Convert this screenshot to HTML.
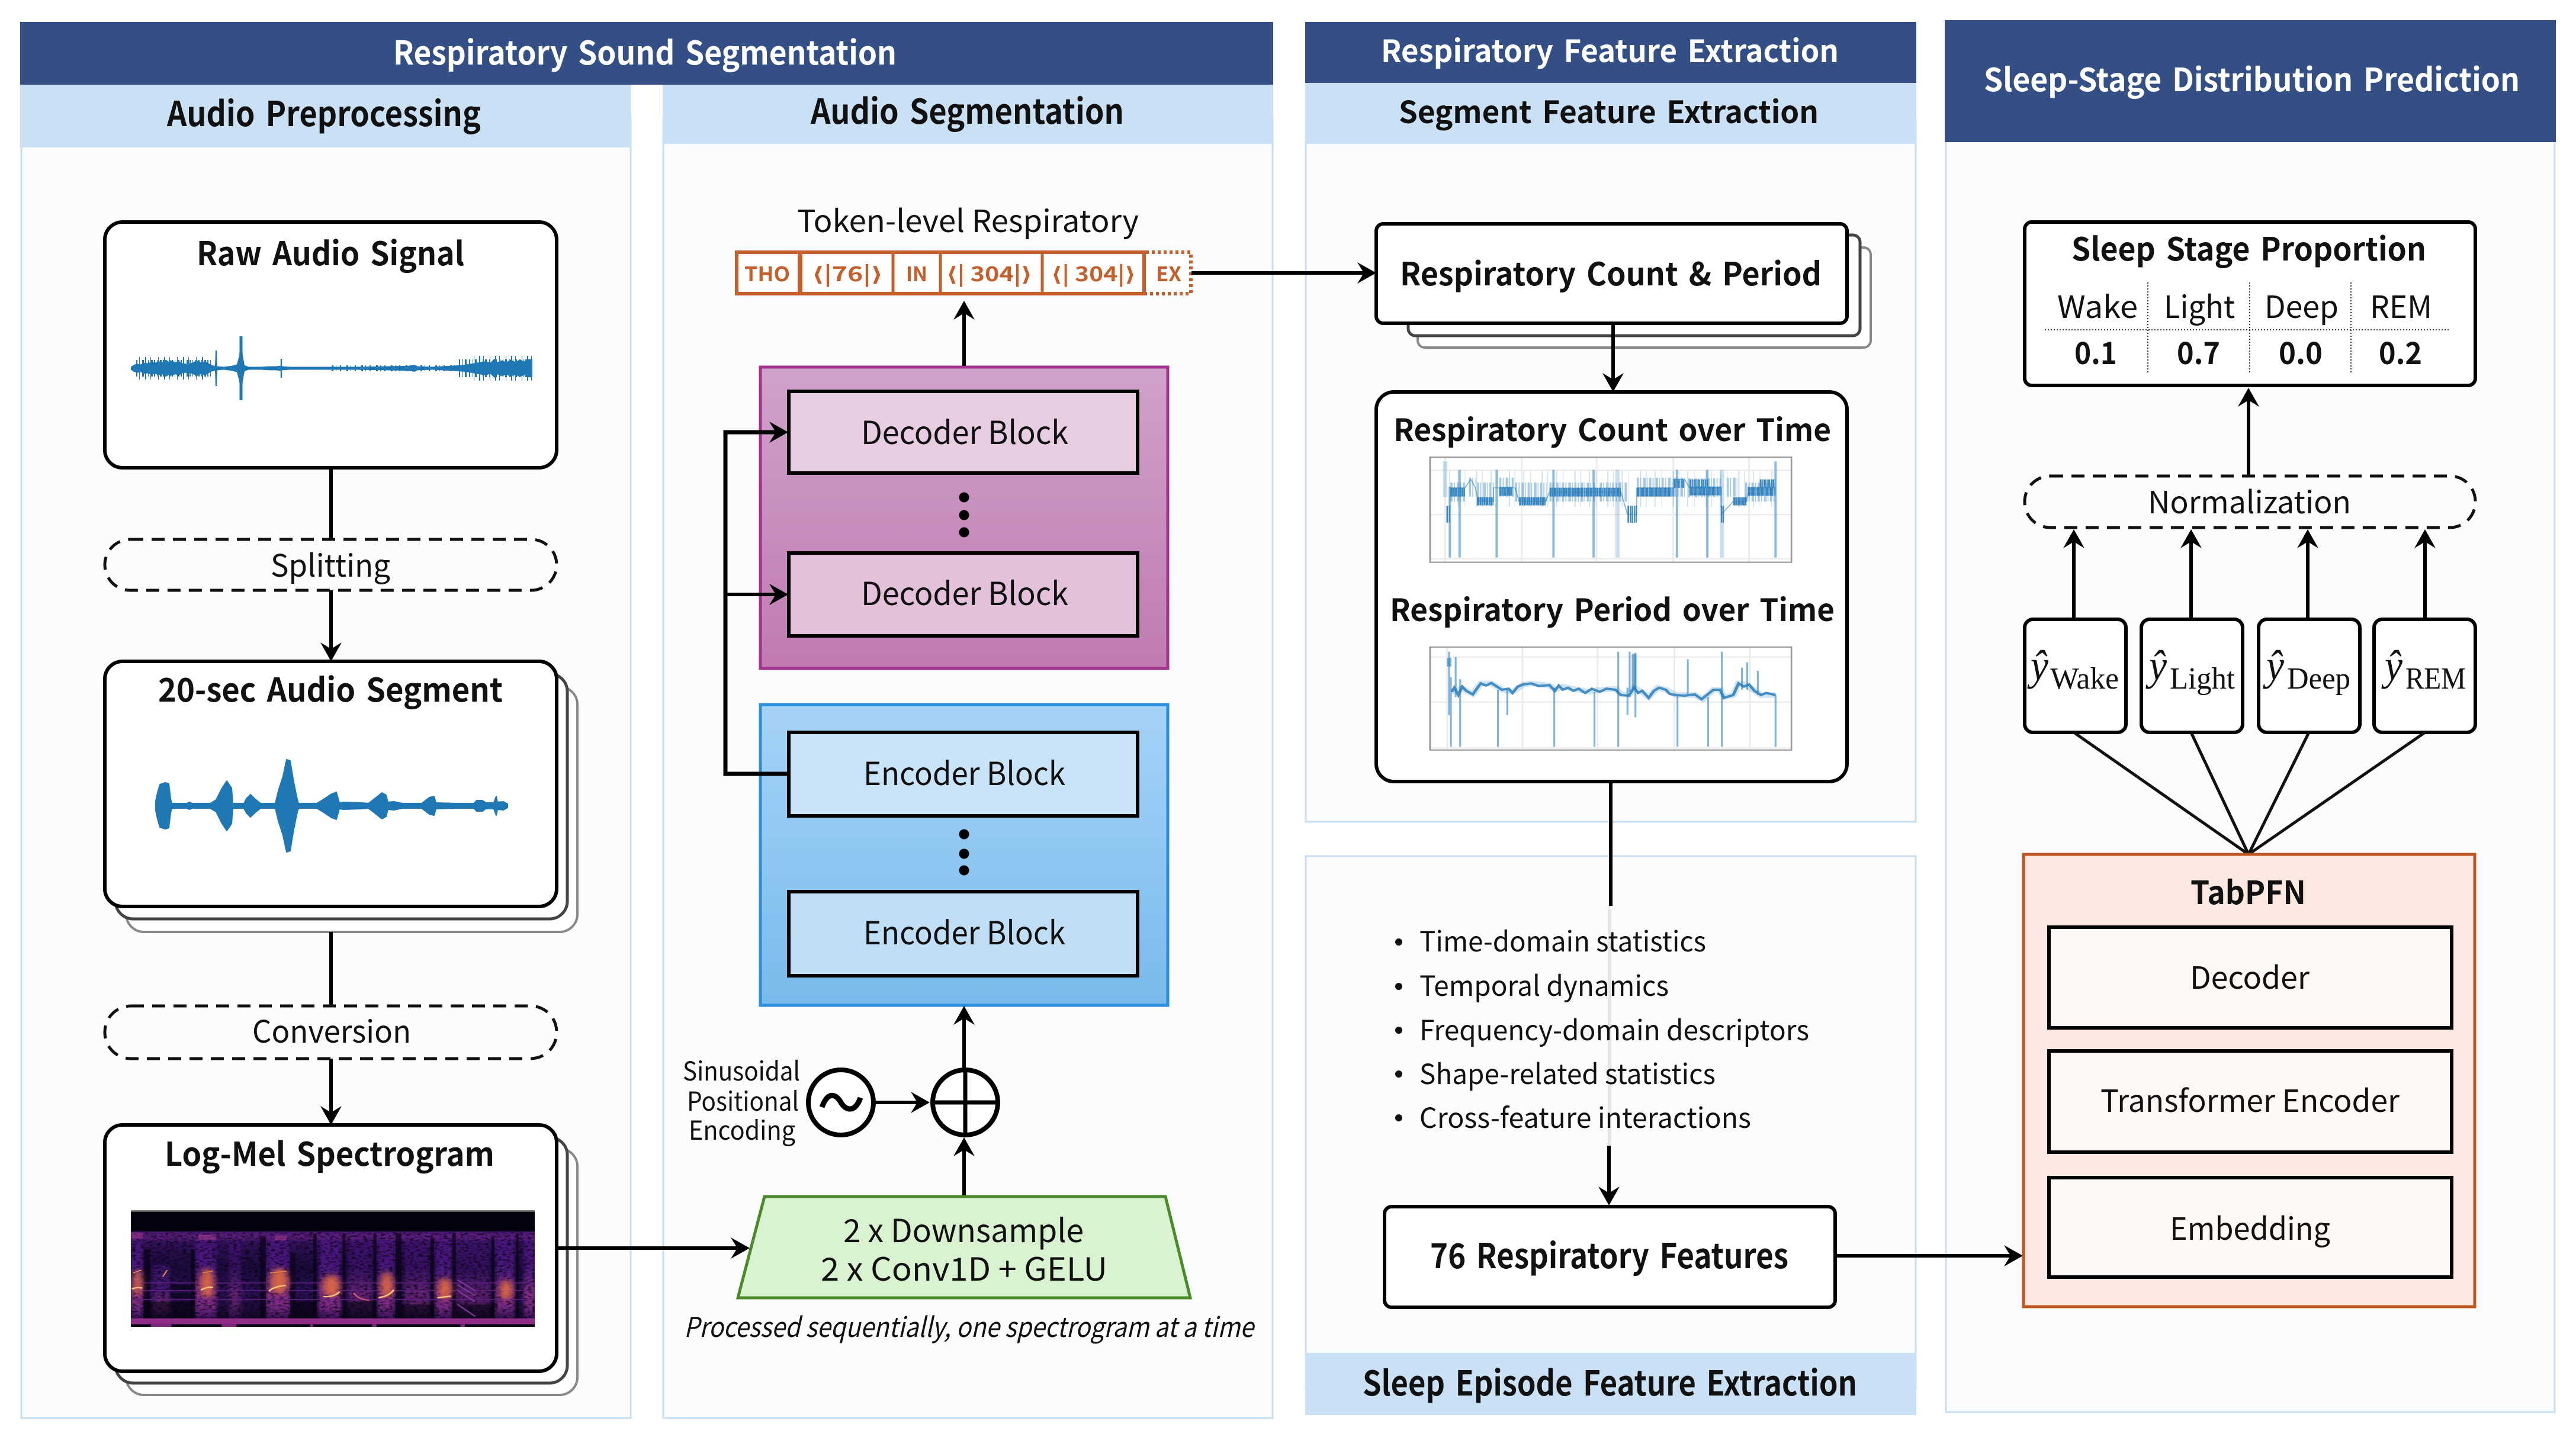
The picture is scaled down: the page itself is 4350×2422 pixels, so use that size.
<!DOCTYPE html>
<html><head><meta charset="utf-8"><style>
html,body{margin:0;padding:0;background:#fff}
svg{display:block}
text{font-family:"Noto Sans CJK KR","Liberation Sans","DejaVu Sans",sans-serif;fill:#111}
.b{font-weight:700;word-spacing:.12em}
.w{fill:#fff}
.s{font-family:"Liberation Serif",serif}
.i{font-style:italic}
.o{fill:#c5602c;font-weight:700}
.bx{fill:#fff;stroke:#000;stroke-width:6}
.l{fill:none;stroke:#000;stroke-width:6}
.d{fill:none;stroke:#111;stroke-width:5;stroke-dasharray:22 14}
.p{fill:#fbfcfe;stroke:#c7dff5;stroke-width:3}
.dot{stroke:#333;stroke-width:2;stroke-dasharray:2 3;fill:none}
</style></head><body>
<svg xmlns="http://www.w3.org/2000/svg" width="4350" height="2422" viewBox="0 0 4350 2422">
<defs>
<marker id="a" markerUnits="userSpaceOnUse" markerWidth="50" markerHeight="50" refX="30" refY="25" orient="auto"><path d="M40,25 L8,7 L19,25 L8,43 Z" fill="#000"/></marker>
<linearGradient id="gd" x1="0" y1="0" x2="0" y2="1"><stop offset="0" stop-color="#d0a2c9"/><stop offset="1" stop-color="#bf7bb0"/></linearGradient>
<linearGradient id="ge" x1="0" y1="0" x2="0" y2="1"><stop offset="0" stop-color="#a6d3f6"/><stop offset="1" stop-color="#78baec"/></linearGradient>
<linearGradient id="sb" x1="0" y1="0" x2="0" y2="1"><stop offset="0" stop-color="#47196e"/><stop offset=".12" stop-color="#33115c"/><stop offset=".4" stop-color="#1c0a3e"/><stop offset=".7" stop-color="#2a1055"/><stop offset="1" stop-color="#150828"/></linearGradient>
<linearGradient id="sc" x1="0" y1="0" x2="0" y2="1"><stop offset="0" stop-color="#45167a"/><stop offset=".45" stop-color="#4d1a80"/><stop offset=".7" stop-color="#8a3086"/><stop offset=".85" stop-color="#7a2a84"/><stop offset="1" stop-color="#341259"/></linearGradient>
<filter id="bl" x="-30%" y="-30%" width="160%" height="160%"><feGaussianBlur stdDeviation="6"/></filter>
<filter id="bl2" x="-40%" y="-40%" width="180%" height="180%"><feGaussianBlur stdDeviation="11"/></filter>
<filter id="nz" x="0" y="0" width="100%" height="100%" color-interpolation-filters="sRGB"><feTurbulence type="fractalNoise" baseFrequency=".07 .1" numOctaves="2" seed="4"/><feColorMatrix values="0 0 0 0 .02 0 0 0 0 .01 0 0 0 0 .06 2.2 0 0 0 -.95"/></filter>
<path id="rw" fill="#1f77b4" d="M221,0 L221,-3 226,-7 232,-9 238,-8 244,-11 250,-10 256,-13 262,-11 268,-14 274,-12 280,-17 285,-13 290,-15 296,-12 302,-14 308,-10 314,-9 322,-10 328,-13 334,-15 340,-11 346,-14 352,-10 358,-6 363,-5 364,-30 366,-30 367,-4 378,-3 392,-5 400,-8 404,-25 406,-54 408,-54 410,-25 413,-6 420,-3 440,-3 455,-4 465,-4 474,-5 474,-16 476,-16 476,-4 490,-3 560,-3 600,-3 650,-4 690,-5 700,-7 705,-4 730,-3 760,-5 775,-6 790,-8 800,-10 810,-12 820,-14 828,-11 835,-19 840,-12 848,-16 855,-12 862,-17 870,-13 878,-17 885,-14 892,-18 899,-18 899,0 Z"/>
<path id="sw" fill="#1f77b4" stroke="#1f77b4" stroke-width="2" stroke-linejoin="round" d="M263,0 L263,-8 266,-22 270,-36 279,-39 285,-37 288,-12 290,-4 315,-4 320,-6 325,-4 355,-4 365,-10 375,-30 383,-42 391,-30 393,-4 412,-4 416,-12 423,-19 430,-12 440,-4 465,-4 470,-25 478,-50 484,-78 490,-76 495,-45 501,-15 504,-4 535,-4 545,-10 560,-20 568,-23 573,-5 580,-6 610,-5 622,-4 630,-10 645,-22 652,-18 655,-6 665,-7 680,-4 712,-4 725,-14 733,-16 736,-5 770,-4 800,-4 805,-9 815,-9 820,-5 834,-5 838,-16 840,-6 850,-7 857,-3 857,0 Z"/>
</defs>

<rect width="4350" height="2422" fill="#fff"/>

<!-- panels -->
<rect class="p" x="36" y="200" width="1029" height="2195"/>
<rect class="p" x="1120" y="200" width="1029" height="2195"/>
<rect class="p" x="2205" y="200" width="1030" height="1188"/>
<rect class="p" x="2205" y="1446" width="1030" height="900"/>
<rect class="p" x="3286" y="200" width="1028" height="2185"/>

<rect x="34" y="37" width="2116" height="106" fill="#344f86"/>
<rect x="34" y="143" width="1032" height="106" fill="#c9e0f5"/>
<rect x="1119" y="143" width="1031" height="100" fill="#c9e0f5"/>
<rect x="2204" y="37" width="1032" height="103" fill="#344f86"/>
<rect x="2204" y="140" width="1032" height="103" fill="#c9e0f5"/>
<rect x="2204" y="2285" width="1032" height="105" fill="#c9e0f5"/>
<rect x="3284" y="34" width="1032" height="206" fill="#344f86"/>

<text class="b w" x="664" y="109" font-size="55" textLength="850" lengthAdjust="spacingAndGlyphs">Respiratory Sound Segmentation</text>
<text class="b" x="282" y="213" font-size="58" textLength="530" lengthAdjust="spacingAndGlyphs">Audio Preprocessing</text>
<text class="b" x="1369" y="209" font-size="58" textLength="529" lengthAdjust="spacingAndGlyphs">Audio Segmentation</text>
<text class="b w" x="2332" y="105" font-size="52" textLength="773" lengthAdjust="spacingAndGlyphs">Respiratory Feature Extraction</text>
<text class="b" x="2362" y="208" font-size="52" textLength="709" lengthAdjust="spacingAndGlyphs">Segment Feature Extraction</text>
<text class="b" x="2301" y="2357" font-size="58" textLength="835" lengthAdjust="spacingAndGlyphs">Sleep Episode Feature Extraction</text>
<text class="b w" x="3350" y="154" font-size="54" textLength="905" lengthAdjust="spacingAndGlyphs">Sleep-Stage Distribution Prediction</text>

<!-- col 1 -->
<rect class="bx" x="177" y="375" width="763" height="415" rx="30"/>
<text class="b" x="332" y="448" font-size="55" textLength="452" lengthAdjust="spacingAndGlyphs">Raw Audio Signal</text>
<use href="#rw" transform="translate(0,622) scale(1,.85)"/><use href="#rw" transform="translate(0,622) scale(1,-.85)"/>
<g fill="none" stroke="#1f77b4">
<path d="M230,622H358" stroke-width="28" stroke-dasharray="2 3 1 4 3 2"/>
<path d="M235,622H350" stroke-width="38" stroke-dasharray="1 9 2 7 1 12"/>
<path d="M775,622H899" stroke-width="30" stroke-dasharray="2 4 1 3 3 4"/>
<path d="M800,622H899" stroke-width="42" stroke-dasharray="1 8 2 5 1 10"/>
<path d="M365,592V652" stroke-width="2.5"/>
<path d="M407,568V676" stroke-width="5"/>
<path d="M475,606V638" stroke-width="2.5"/>
<path d="M560,622H780" stroke-width="10" stroke-dasharray="3 4 1 6 2 9"/>
</g>
<line class="l" x1="559" y1="790" x2="559" y2="911"/>
<rect class="d" x="177" y="911" width="763" height="86" rx="43" style="fill:#fbfcfe"/>
<text x="457" y="974" font-size="52" textLength="202" lengthAdjust="spacingAndGlyphs">Splitting</text>
<line class="l" x1="559" y1="997" x2="559" y2="1107" marker-end="url(#a)"/>

<rect x="213" y="1160" width="762" height="414" rx="30" fill="#fff" stroke="#888" stroke-width="4"/>
<rect x="195" y="1138" width="763" height="414" rx="30" fill="#fff" stroke="#444" stroke-width="5"/>
<rect class="bx" x="177" y="1117" width="763" height="414" rx="30"/>
<text class="b" x="267" y="1185" font-size="55" textLength="582" lengthAdjust="spacingAndGlyphs">20-sec Audio Segment</text>
<use href="#sw" transform="translate(0,1361)"/><use href="#sw" transform="translate(0,1361) scale(1,-1)"/>
<line class="l" x1="559" y1="1574" x2="559" y2="1699"/>
<rect class="d" x="177" y="1699" width="763" height="89" rx="44" style="fill:#fbfcfe"/>
<text x="426" y="1761" font-size="52" textLength="268" lengthAdjust="spacingAndGlyphs">Conversion</text>
<line class="l" x1="559" y1="1788" x2="559" y2="1890" marker-end="url(#a)"/>

<rect x="213" y="1940" width="762" height="416" rx="30" fill="#fff" stroke="#888" stroke-width="4"/>
<rect x="195" y="1921" width="763" height="415" rx="30" fill="#fff" stroke="#444" stroke-width="5"/>
<rect class="bx" x="177" y="1900" width="763" height="416" rx="30"/>
<text class="b" x="278" y="1969" font-size="55" textLength="557" lengthAdjust="spacingAndGlyphs">Log-Mel Spectrogram</text>

<!-- spectrogram -->
<svg x="221" y="2044" width="682" height="197" viewBox="82 282 1370 591" preserveAspectRatio="none">
<rect x="82" y="282" width="1370" height="591" fill="#04020f"/>
<rect x="82" y="390" width="1370" height="445" fill="url(#sb)"/>
<g fill="url(#sc)" filter="url(#bl)">
<rect x="82" y="395" width="42" height="440"/><rect x="300" y="395" width="72" height="440"/><rect x="415" y="395" width="40" height="440" opacity=".6"/><rect x="540" y="395" width="82" height="440"/><rect x="720" y="395" width="74" height="440"/><rect x="820" y="395" width="80" height="440" opacity=".6"/><rect x="920" y="395" width="56" height="440"/><rect x="1010" y="395" width="85" height="440" opacity=".6"/><rect x="1115" y="395" width="56" height="440"/><rect x="1185" y="395" width="115" height="440" opacity=".5"/><rect x="1320" y="395" width="62" height="440"/><rect x="1415" y="395" width="37" height="440"/>
<rect x="155" y="560" width="60" height="270" opacity=".7"/>
</g>
<g fill="#6b2188" opacity=".6" filter="url(#bl)">
<rect x="82" y="398" width="1370" height="36"/>
</g>
<g fill="#04020f" opacity=".6">
<rect x="125" y="480" width="22" height="350"/><rect x="285" y="480" width="15" height="350"/><rect x="520" y="420" width="20" height="410"/><rect x="622" y="500" width="18" height="330"/><rect x="700" y="400" width="12" height="430"/><rect x="800" y="400" width="10" height="430"/><rect x="905" y="400" width="10" height="430"/><rect x="980" y="400" width="20" height="430"/><rect x="1098" y="420" width="12" height="410"/><rect x="1172" y="400" width="12" height="430"/><rect x="1305" y="420" width="10" height="410"/><rect x="1388" y="400" width="10" height="430"/>
</g>
<g fill="#04020f" opacity=".55">
<rect x="125" y="745" width="165" height="85"/><rect x="640" y="745" width="70" height="85"/><rect x="810" y="745" width="100" height="85"/><rect x="1000" y="760" width="110" height="70"/><rect x="1185" y="760" width="130" height="70"/><rect x="215" y="660" width="70" height="25"/><rect x="215" y="700" width="70" height="28"/>
</g>
<rect x="82" y="395" width="1370" height="435" filter="url(#nz)"/>
<g stroke="#5e2180" stroke-width="6" opacity=".8"><line x1="82" y1="650" x2="1452" y2="650"/><line x1="82" y1="690" x2="1452" y2="690"/><line x1="82" y1="735" x2="1452" y2="735"/></g>
<g fill="#e8703f" filter="url(#bl2)" opacity=".85">
<ellipse cx="105" cy="650" rx="14" ry="65"/><ellipse cx="340" cy="650" rx="22" ry="75"/><ellipse cx="585" cy="640" rx="30" ry="65"/><ellipse cx="762" cy="665" rx="28" ry="55"/><ellipse cx="950" cy="660" rx="20" ry="65"/><ellipse cx="1147" cy="680" rx="22" ry="55"/><ellipse cx="1355" cy="685" rx="20" ry="50"/>
</g>
<g fill="none" stroke="#ffc27a" stroke-width="7" stroke-linecap="round"><path d="M88,680 Q100,672 118,676"/><path d="M322,685 Q340,670 358,672"/><path d="M552,690 Q570,668 605,664"/><path d="M738,720 Q770,722 788,698"/><path d="M925,725 Q960,715 972,688"/><path d="M1125,725 L1165,718"/></g>
<g fill="none" stroke="#e4824f" stroke-width="5"><path d="M90,600 L118,585"/><path d="M325,600 L360,590"/><path d="M555,600 L610,590"/><path d="M205,585 L190,620"/></g>
<path d="M838,702 Q855,735 890,738" fill="none" stroke="#c75a7a" stroke-width="6"/>
<g fill="none" stroke="#7a3596" stroke-width="6"><path d="M1190,635 L1250,690"/><path d="M1190,660 L1250,715"/><path d="M1190,690 L1250,745"/><path d="M1190,760 L1250,820"/></g>
<g fill="#a93b8a" opacity=".5"><rect x="82" y="395" width="40" height="30"/><rect x="310" y="405" width="60" height="28"/><rect x="570" y="410" width="40" height="25"/></g>
<rect x="82" y="830" width="1370" height="30" fill="#8e2c86"/>
<rect x="82" y="860" width="1370" height="13" fill="#0a0418"/>
<g fill="#7c2680"><rect x="150" y="860" width="70" height="13"/><rect x="390" y="860" width="50" height="13"/><rect x="690" y="860" width="10" height="13"/><rect x="900" y="860" width="15" height="13"/><rect x="1200" y="860" width="15" height="13"/></g>
<rect x="82" y="282" width="1370" height="8" fill="#777"/>
</svg>

<!-- col 2 -->
<text x="1346" y="392" font-size="52" textLength="577" lengthAdjust="spacingAndGlyphs">Token-level Respiratory</text>
<rect x="1244" y="426" width="688" height="70" fill="#fff" stroke="#c5602c" stroke-width="6"/>
<g stroke="#c5602c"><line x1="1351" y1="426" x2="1351" y2="496" stroke-width="8"/><line x1="1508" y1="426" x2="1508" y2="496" stroke-width="5"/><line x1="1588" y1="426" x2="1588" y2="496" stroke-width="5"/><line x1="1760" y1="426" x2="1760" y2="496" stroke-width="5"/></g>
<path d="M1935,426 H2011 V496 H1935" fill="#fff" stroke="#c5602c" stroke-width="6" stroke-dasharray="5 5"/>
<g font-size="34">
<text class="o" x="1257" y="475" textLength="77" lengthAdjust="spacingAndGlyphs">THO</text>
<text class="o" x="1371" y="475" textLength="120" lengthAdjust="spacingAndGlyphs">⟨|76|⟩</text>
<text class="o" x="1530" y="475" textLength="36" lengthAdjust="spacingAndGlyphs">IN</text>
<text class="o" x="1598" y="475" textLength="145" lengthAdjust="spacingAndGlyphs">⟨| 304|⟩</text>
<text class="o" x="1775" y="475" textLength="143" lengthAdjust="spacingAndGlyphs">⟨| 304|⟩</text>
<text class="o" x="1952" y="475" textLength="43" lengthAdjust="spacingAndGlyphs">EX</text>
</g>
<rect x="1284" y="620" width="688" height="509" fill="url(#gd)" stroke="#a3308f" stroke-width="5"/>
<rect x="1332" y="661" width="589" height="138" fill="#e7cde2" stroke="#000" stroke-width="6"/>
<rect x="1332" y="934" width="589" height="140" fill="#e3c1da" stroke="#000" stroke-width="6"/>
<text x="1454" y="750" font-size="54" textLength="350" lengthAdjust="spacingAndGlyphs">Decoder Block</text>
<text x="1454" y="1022" font-size="54" textLength="350" lengthAdjust="spacingAndGlyphs">Decoder Block</text>
<circle cx="1628" cy="840" r="8.5"/><circle cx="1628" cy="870" r="8.5"/><circle cx="1628" cy="899" r="8.5"/>
<rect x="1284" y="1190" width="688" height="508" fill="url(#ge)" stroke="#2a8cdc" stroke-width="5"/>
<rect x="1332" y="1237" width="589" height="141" fill="#c9e4f8" stroke="#000" stroke-width="6"/>
<rect x="1332" y="1506" width="589" height="142" fill="#c0dff6" stroke="#000" stroke-width="6"/>
<text x="1458" y="1326" font-size="54" textLength="341" lengthAdjust="spacingAndGlyphs">Encoder Block</text>
<text x="1458" y="1595" font-size="54" textLength="341" lengthAdjust="spacingAndGlyphs">Encoder Block</text>
<circle cx="1628" cy="1409" r="8.5"/><circle cx="1628" cy="1442" r="8.5"/><circle cx="1628" cy="1470" r="8.5"/>
<line class="l" x1="1628" y1="618" x2="1628" y2="518" marker-end="url(#a)"/>
<path class="l" style="stroke-width:7" d="M1331,1307 H1225 V730 H1321" marker-end="url(#a)"/>
<line class="l" x1="1225" y1="1004" x2="1321" y2="1004" marker-end="url(#a)"/>

<g font-size="44"><text x="1153" y="1825" textLength="198" lengthAdjust="spacingAndGlyphs">Sinusoidal</text>
<text x="1160" y="1876" textLength="189" lengthAdjust="spacingAndGlyphs">Positional</text>
<text x="1163" y="1925" textLength="180" lengthAdjust="spacingAndGlyphs">Encoding</text></g>
<circle cx="1420" cy="1862" r="55" fill="#fff" stroke="#000" stroke-width="8"/>
<path d="M1388,1870 C1398,1842 1412,1848 1420,1862 C1428,1876 1444,1880 1453,1854" fill="none" stroke="#000" stroke-width="9"/>
<circle cx="1630" cy="1862" r="55" fill="#fff" stroke="#000" stroke-width="8"/>
<path d="M1574,1862 H1686 M1630,1806 V1918" stroke="#000" stroke-width="7"/>
<line class="l" x1="1477" y1="1862" x2="1560" y2="1862" stroke-width="5" marker-end="url(#a)"/>
<line class="l" x1="1628" y1="1806" x2="1628" y2="1709" marker-end="url(#a)"/>
<line class="l" x1="1628" y1="2021" x2="1628" y2="1931" marker-end="url(#a)"/>
<polygon points="1291,2021 1968,2021 2010,2192 1246,2192" fill="#d9f2d0" stroke="#4b8a2a" stroke-width="5"/>
<text x="1424" y="2098" font-size="54" textLength="406" lengthAdjust="spacingAndGlyphs">2 x Downsample</text>
<text x="1386" y="2163" font-size="54" textLength="484" lengthAdjust="spacingAndGlyphs">2 x Conv1D + GELU</text>
<text class="i" x="1155" y="2258" font-size="46" textLength="962" lengthAdjust="spacingAndGlyphs">Processed sequentially, one spectrogram at a time</text>
<line class="l" x1="940" y1="2108" x2="1256" y2="2108" stroke-width="5" marker-end="url(#a)"/>
<line class="l" x1="2012" y1="461" x2="2314" y2="461" stroke-width="5" marker-end="url(#a)"/>

<!-- col 3 -->
<rect x="2394" y="418" width="765" height="169" rx="12" fill="#fff" stroke="#888" stroke-width="4"/>
<rect x="2378" y="397" width="763" height="170" rx="12" fill="#fff" stroke="#444" stroke-width="5"/>
<rect class="bx" x="2324" y="378" width="795" height="168" rx="12"/>
<text class="b" x="2364" y="482" font-size="54" textLength="712" lengthAdjust="spacingAndGlyphs">Respiratory Count &amp; Period</text>
<line class="l" x1="2724" y1="546" x2="2724" y2="652" marker-end="url(#a)"/>
<rect class="bx" x="2324" y="662" width="795" height="658" rx="30"/>
<text class="b" x="2353" y="745" font-size="52" textLength="739" lengthAdjust="spacingAndGlyphs">Respiratory Count over Time</text>
<text class="b" x="2347" y="1049" font-size="52" textLength="751" lengthAdjust="spacingAndGlyphs">Respiratory Period over Time</text>

<svg x="2380" y="740" width="700" height="560" viewBox="0 0 1568 1568" preserveAspectRatio="none">
<rect x="78" y="90" width="1367" height="497" fill="#fff"/>
<g stroke="#ececec" stroke-width="7"><path d="M135,90V587M425,90V587M708,90V587M998,90V587M1285,90V587M78,152H1445M78,362H1445M78,570H1445"/></g>
<!-- light halo bars -->
<g fill="none" stroke="#2f83c0" opacity=".42">
<path d="M155,255H210M225,232H250M255,255H320M340,232H395M400,255H520M530,255H700M720,255H825M860,232H1045M1055,235H1180M1200,232H1240M1270,255H1385" stroke-width="90" stroke-dasharray="8 5 4 7 10 4 3 6"/>
<path d="M150,240H1385" stroke-width="170" stroke-dasharray="3 30 4 22 2 41 5 17" opacity=".55"/>
</g>
<!-- dark core -->
<g fill="none" stroke="#2a7dbc" opacity=".9">
<path d="M140,360H155M825,360H860M1178,360H1190" stroke-width="80" stroke-dasharray="6 3 4 2"/>
<path d="M155,255H210M340,252H390M530,255H800M860,255H1000M1060,250H1180M1280,252H1385" stroke-width="42" stroke-dasharray="9 1 5 1 11 2 4 1"/>
<path d="M255,299H318M415,299H515M1225,299H1275" stroke-width="38" stroke-dasharray="9 1 6 1"/>
<path d="M1000,215H1040M1060,215H1130M1325,215H1385" stroke-width="40" stroke-dasharray="7 3 4 2"/>
</g>
<path d="M155,235H210L232,195L250,235L260,300H318V235H400L415,300H515L530,255H800L825,360H860V235H1000V195H1040L1060,235H1180V360L1225,300H1275L1285,240H1385" fill="none" stroke="#2f83c0" stroke-width="4" opacity=".6"/>
<g stroke="#2f83c0" stroke-width="9" opacity=".55">
<path d="M153,230V565M190,150V565M330,150V565M545,150V565M697,150V565M1012,150V565M1127,150V565M1385,110V565"/></g>
<g stroke="#2f83c0" stroke-width="16" opacity=".25"><path d="M787,150V565M1182,150V565M135,110V280"/></g>
<rect x="78" y="90" width="1367" height="497" fill="none" stroke="#999" stroke-width="6"/>

<rect x="78" y="988" width="1367" height="487" fill="#fff"/>
<g stroke="#ececec" stroke-width="7"><path d="M143,988V1475M428,988V1475M712,988V1475M1002,988V1475M1288,988V1475M78,1035H1445M78,1248H1445M78,1465H1445"/></g>
<polyline fill="none" stroke="#2f83c0" stroke-width="26" opacity=".22" points="160,1200 200,1185 240,1210 270,1160 310,1160 350,1190 390,1200 430,1165 460,1160 530,1170 550,1190 580,1175 640,1190 680,1200 720,1190 780,1185 800,1210 830,1215 850,1180 880,1200 905,1225 940,1180 970,1190 1010,1215 1080,1215 1110,1235 1150,1190 1175,1190 1190,1225 1225,1215 1245,1160 1270,1165 1300,1190 1330,1215 1385,1215"/>
<polyline fill="none" stroke="#2a7dbc" stroke-width="11" opacity=".85" points="160,1200 170,1180 185,1215 200,1175 215,1195 240,1212 255,1185 270,1160 290,1170 310,1158 350,1190 375,1185 390,1205 410,1175 430,1165 460,1160 490,1172 530,1168 550,1195 565,1170 580,1190 600,1180 620,1195 640,1185 665,1205 690,1185 720,1200 745,1185 780,1190 800,1215 830,1218 850,1180 865,1205 880,1195 905,1228 925,1195 945,1180 970,1190 985,1210 1010,1215 1040,1218 1080,1212 1105,1235 1125,1215 1150,1190 1175,1190 1190,1228 1225,1215 1245,1160 1265,1175 1285,1165 1305,1195 1330,1215 1350,1205 1385,1215"/>
<g stroke="#2f83c0" stroke-width="7" opacity=".6">
<path d="M150,1010V1310M157,1130V1460M175,1035V1225M192,1140V1460M335,1190V1460M370,1190V1310M548,1180V1460M700,1200V1460M790,1010V1460M825,1180V1310M833,1010V1200M855,1015V1320M1014,1215V1460M1053,1045V1215M1130,1225V1460M1182,1010V1460M1258,1085V1190M1278,1060V1190M1318,1100V1215M1385,1215V1460"/></g>
<g stroke="#2a7dbc" stroke-width="18" opacity=".6"><path d="M850,1020V1190M150,1040V1080"/></g>
<rect x="78" y="988" width="1367" height="487" fill="none" stroke="#999" stroke-width="6"/>
</svg>

<line class="l" x1="2720" y1="1320" x2="2720" y2="1530"/>
<line x1="2718" y1="1530" x2="2718" y2="1935" stroke="#e6e6e6" stroke-width="6"/>
<g font-size="47">
<text x="2397" y="1607" textLength="484" lengthAdjust="spacingAndGlyphs">Time-domain statistics</text>
<text x="2397" y="1682" textLength="421" lengthAdjust="spacingAndGlyphs">Temporal dynamics</text>
<text x="2397" y="1757" textLength="658" lengthAdjust="spacingAndGlyphs">Frequency-domain descriptors</text>
<text x="2397" y="1831" textLength="500" lengthAdjust="spacingAndGlyphs">Shape-related statistics</text>
<text x="2397" y="1905" textLength="560" lengthAdjust="spacingAndGlyphs">Cross-feature interactions</text>
</g>
<g fill="#111"><circle cx="2362" cy="1591" r="6"/><circle cx="2362" cy="1666" r="6"/><circle cx="2362" cy="1740" r="6"/><circle cx="2362" cy="1814" r="6"/><circle cx="2362" cy="1888" r="6"/></g>
<line class="l" x1="2717" y1="1935" x2="2717" y2="2026" stroke-width="5" marker-end="url(#a)"/>
<rect class="bx" x="2338" y="2038" width="761" height="170" rx="12"/>
<text class="b" x="2415" y="2142" font-size="58" textLength="605" lengthAdjust="spacingAndGlyphs">76 Respiratory Features</text>
<line class="l" x1="3099" y1="2121" x2="3406" y2="2121" marker-end="url(#a)"/>

<!-- col 4 -->
<rect class="bx" x="3419" y="375" width="761" height="276" rx="12"/>
<text class="b" x="3498" y="440" font-size="54" textLength="599" lengthAdjust="spacingAndGlyphs">Sleep Stage Proportion</text>
<g font-size="52">
<text x="3474" y="537" textLength="136" lengthAdjust="spacingAndGlyphs">Wake</text>
<text x="3654" y="537" textLength="120" lengthAdjust="spacingAndGlyphs">Light</text>
<text x="3824" y="537" textLength="125" lengthAdjust="spacingAndGlyphs">Deep</text>
<text x="4002" y="537" textLength="105" lengthAdjust="spacingAndGlyphs">REM</text>
<text class="b" x="3503" y="615" textLength="72" lengthAdjust="spacingAndGlyphs">0.1</text>
<text class="b" x="3676" y="615" textLength="73" lengthAdjust="spacingAndGlyphs">0.7</text>
<text class="b" x="3848" y="615" textLength="74" lengthAdjust="spacingAndGlyphs">0.0</text>
<text class="b" x="4017" y="615" textLength="73" lengthAdjust="spacingAndGlyphs">0.2</text>
</g>
<path class="dot" d="M3627,477V630M3799,477V630M3970,477V630M3453,557H4137"/>
<line class="l" x1="3797" y1="804" x2="3797" y2="665" marker-end="url(#a)"/>
<rect class="d" x="3419" y="804" width="761" height="87" rx="43" style="fill:#fbfcfe"/>
<text x="3627" y="867" font-size="52" textLength="343" lengthAdjust="spacingAndGlyphs">Normalization</text>
<line class="l" x1="3502" y1="1046" x2="3502" y2="904" marker-end="url(#a)"/>
<line class="l" x1="3700" y1="1046" x2="3700" y2="904" marker-end="url(#a)"/>
<line class="l" x1="3897" y1="1046" x2="3897" y2="904" marker-end="url(#a)"/>
<line class="l" x1="4095" y1="1046" x2="4095" y2="904" marker-end="url(#a)"/>
<rect class="bx" x="3419" y="1046" width="171" height="191" rx="14"/>
<rect class="bx" x="3616" y="1046" width="171" height="191" rx="14"/>
<rect class="bx" x="3814" y="1046" width="171" height="191" rx="14"/>
<rect class="bx" x="4009" y="1046" width="171" height="191" rx="14"/>
<text class="s i" x="3429" y="1148" font-size="72" textLength="30" lengthAdjust="spacingAndGlyphs">ŷ</text><text class="s" x="3462" y="1163" font-size="52" textLength="116" lengthAdjust="spacingAndGlyphs">Wake</text>
<text class="s i" x="3629" y="1148" font-size="72" textLength="30" lengthAdjust="spacingAndGlyphs">ŷ</text><text class="s" x="3664" y="1163" font-size="52" textLength="110" lengthAdjust="spacingAndGlyphs">Light</text>
<text class="s i" x="3827" y="1148" font-size="72" textLength="30" lengthAdjust="spacingAndGlyphs">ŷ</text><text class="s" x="3862" y="1163" font-size="52" textLength="107" lengthAdjust="spacingAndGlyphs">Deep</text>
<text class="s i" x="4027" y="1148" font-size="72" textLength="30" lengthAdjust="spacingAndGlyphs">ŷ</text><text class="s" x="4062" y="1163" font-size="52" textLength="102" lengthAdjust="spacingAndGlyphs">REM</text>
<g stroke="#111" stroke-width="5" fill="none"><path d="M3502,1237L3797,1443M3700,1237L3797,1443M3899,1237L3797,1443M4095,1237L3797,1443"/></g>
<rect x="3417" y="1443" width="762" height="764" fill="#fbe9e1" stroke="#c0561f" stroke-width="5"/>
<text class="b" x="3699" y="1527" font-size="54" textLength="195" lengthAdjust="spacingAndGlyphs">TabPFN</text>
<rect x="3460" y="1566" width="680" height="170" fill="#fdf8f5" stroke="#000" stroke-width="6"/>
<rect x="3460" y="1775" width="680" height="171" fill="#fdf8f5" stroke="#000" stroke-width="6"/>
<rect x="3460" y="1989" width="680" height="168" fill="#fdf8f5" stroke="#000" stroke-width="6"/>
<text x="3698" y="1670" font-size="52" textLength="202" lengthAdjust="spacingAndGlyphs">Decoder</text>
<text x="3547" y="1878" font-size="52" textLength="505" lengthAdjust="spacingAndGlyphs">Transformer Encoder</text>
<text x="3664" y="2094" font-size="52" textLength="271" lengthAdjust="spacingAndGlyphs">Embedding</text>
</svg>
</body></html>
